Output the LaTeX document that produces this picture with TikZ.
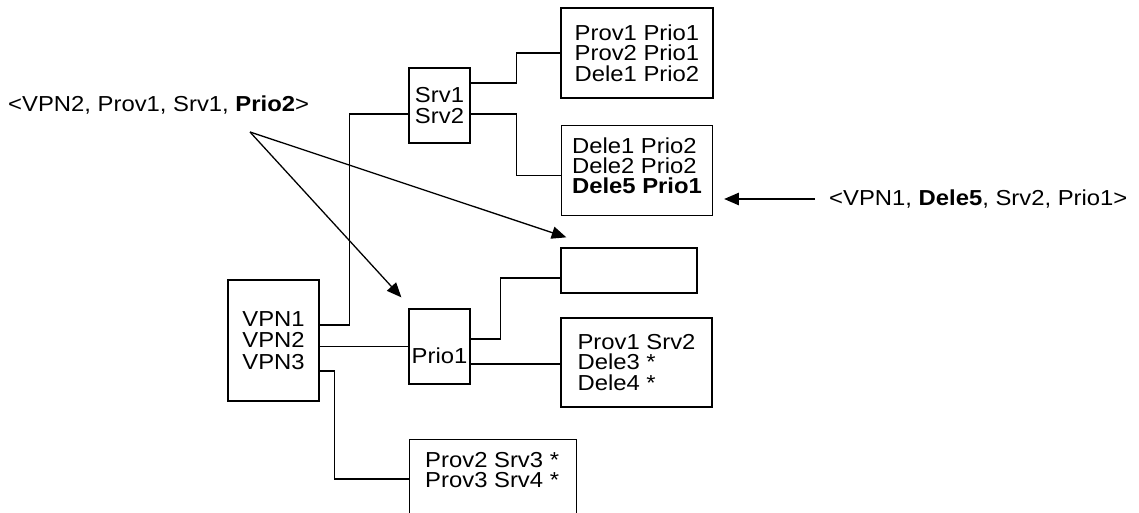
\documentclass[tikz,border=0pt]{standalone}
\usepackage{fontspec}
\setmainfont{Liberation Sans}[FakeStretch=1.1]
\usetikzlibrary{arrows.meta,positioning,calc}

\begin{document}
\begin{tikzpicture}[
  x=0.03cm, y=-0.03cm,
  box/.style={draw, line width=1.1pt, inner sep=0pt, align=left,
              font=\fontsize{18.5pt}{17.3pt}\selectfont},
  lbl/.style={inner sep=0pt, anchor=west, font=\fontsize{18.5pt}{17.3pt}\selectfont},
  link/.style={line width=1.1pt},
  arr/.style={line width=1.1pt, -{Triangle[length=12.5pt, width=10.5pt]}}
]
  \useasboundingbox (0,0) rectangle (1139,513);
  \clip (0,0) rectangle (1139,513);

  % tables
  \node[box, minimum width=4.56cm, minimum height=2.7cm] (top) at (637,53)
    {Prov1 Prio1\\Prov2 Prio1\\Dele1 Prio2};
  \node[box, minimum width=4.53cm, minimum height=2.7cm, below=0.78cm of top,
        text depth=8pt] (dele)
    {Dele1 Prio2\\Dele2 Prio2\\\textbf{Dele5 Prio1}};
  \node[box, minimum width=1.83cm, minimum height=2.25cm] (srv) at (439.5,105.5)
    {Srv1\\Srv2};
  \node[box, minimum width=4.08cm, minimum height=1.35cm] (empty) at (629,270.5) {};
  \node[box, minimum width=2.73cm, minimum height=3.63cm,
        font=\fontsize{18.5pt}{18.5pt}\selectfont] (vpn) at (273.5,340.5)
    {VPN1\\VPN2\\VPN3};
  \node[box, minimum width=1.83cm, minimum height=2.25cm,
        text height=29.6pt, text depth=0pt] (prio) at (439.5,346.5) {Prio1};
  \node[box, minimum width=4.53cm, minimum height=2.67cm] (provsrv) at (636.5,362.5)
    {Prov1 Srv2\\Dele3 *\\Dele4 *};
  \node[box, minimum width=5.01cm, minimum height=3.03cm, anchor=north west] (srvlist)
    at (409,439) {};
  \node[lbl, anchor=north west, align=left] (srvtext) at (425,452)
    {Prov2 Srv3 *\\Prov3 Srv4 *};

  % tuples
  \node[lbl] (lbla) at (8,105) {<VPN2, Prov1, Srv1, \textbf{Prio2}>};
  \node[lbl] (lblb) at (829,199) {<VPN1, \textbf{Dele5}, Srv2, Prio1>};
  \coordinate (fork) at (250,132);
  \coordinate (hit) at ($(dele.east)+(11,0)$);
  \coordinate (plow) at ($(prio.east)+(0,17.5)$);

  % links
  \draw[link] ($(srv.east)+(0,-22.5)$) -- ++(46,0) |- (top.west);
  \draw[link] ($(srv.east)+(0,8.5)$) -- ++(46,0) |- ($(dele.west)+(0,5)$);
  \draw[link] ($(vpn.east)+(0,-15.5)$) -- ++(30,0) |- ($(srv.west)+(0,8.5)$);
  \draw[link] (prio.west) -- (prio.west -| vpn.east);
  \draw[link] ($(vpn.east)+(0,30.5)$) -- ++(15,0) |- ($(srvlist.north west)+(0,40)$);
  \draw[link] ($(prio.east)+(0,-7.5)$) -- ++(30,0) |- ($(empty.west)+(0,7.5)$);
  \draw[link] (plow) -- (plow -| provsrv.west);

  % arrows
  \draw[arr] (fork) -- ($(prio.north west)+(-7,-11)$);
  \draw[arr] (fork) -- ($(empty.north west)+(6,-10)$);
  \draw[arr] ($(lblb.west)+(-14,0)$) -- (hit |- lblb.west);
\end{tikzpicture}
\end{document}
